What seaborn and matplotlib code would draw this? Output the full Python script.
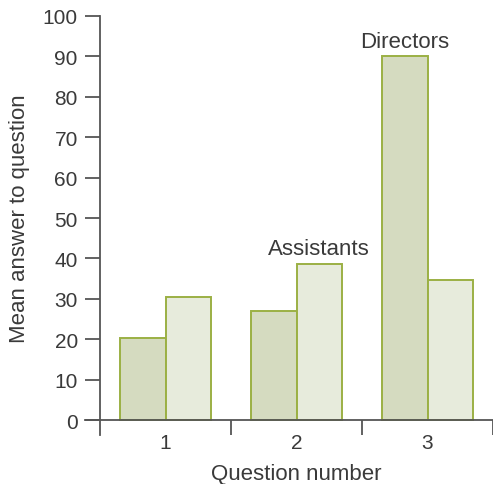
import matplotlib
matplotlib.use("Agg")
import matplotlib.pyplot as plt
import seaborn as sns
import pandas as pd

# Mean answers per question for the two staff groups
questions = ["1", "2", "3"]
directors = [20.3, 27.1, 90.0]
assistants = [30.5, 38.6, 34.7]
groups = ["Directors", "Assistants"]

df = pd.DataFrame({
    "question": questions * 2,
    "group": [groups[0]] * len(questions) + [groups[1]] * len(questions),
    "value": directors + assistants,
})

sns.set_theme(style="white")
plt.rcParams["font.family"] = ["Liberation Sans", "DejaVu Sans"]

text_col = "#3a3a3a"
axis_col = "#555555"
fills = {"Directors": "#d8e0bb", "Assistants": "#e8edda"}
edge = "#9bb044"

fig = plt.figure(figsize=(4.93, 4.85), dpi=100)
ax = fig.add_axes([0.203, 0.101, 0.797, 0.864])

sns.barplot(data=df, x="question", y="value", hue="group", hue_order=groups,
            palette=fills, edgecolor=edge, linewidth=1.4, width=0.69,
            legend=False, ax=ax, zorder=2)

ax.set_xlim(-0.5, 2.5)
ax.set_ylim(-3.7, 100)
ax.set_yticks(range(0, 101, 10))

# x axis sits at zero; tick marks at group boundaries, labels at centres
for s in ["top", "right"]:
    ax.spines[s].set_visible(False)
ax.spines["bottom"].set_position(("data", 0))
for s in ["left", "bottom"]:
    ax.spines[s].set_color(axis_col)
    ax.spines[s].set_linewidth(1.3)
ax.spines["bottom"].set_bounds(-0.5 - 15 / 131, 2.5)

ax.set_xticks([0, 1, 2])
ax.set_xticks([0.5, 1.5, 2.5], minor=True)
ax.tick_params(axis="x", which="major", bottom=True, length=0, pad=9,
               labelsize=15, labelcolor=text_col)
ax.tick_params(axis="x", which="minor", bottom=True, length=11, width=1.3,
               color=axis_col, direction="out")
ax.tick_params(axis="y", left=True, length=11, width=1.3, color=axis_col,
               direction="out", pad=5, labelsize=15, labelcolor=text_col)

ax.set_xlabel("Question number", fontsize=16, color=text_col, labelpad=8)
ax.set_ylabel("Mean answer to question", fontsize=16, color=text_col)
ax.yaxis.set_label_coords(-0.178, 0.519)

# name each group above its tallest bar
label_spots = [(0, 2, directors[2]), (1, 1, assistants[1])]
for hue_idx, q_idx, val in label_spots:
    bar = ax.containers[hue_idx][q_idx]
    xc = bar.get_x() + bar.get_width() / 2
    ax.annotate(groups[hue_idx], (xc, val), xytext=(0, 3.5),
                textcoords="offset points", ha="center", va="bottom",
                fontsize=16, color=text_col)

fig.savefig("out.png", dpi=100)
